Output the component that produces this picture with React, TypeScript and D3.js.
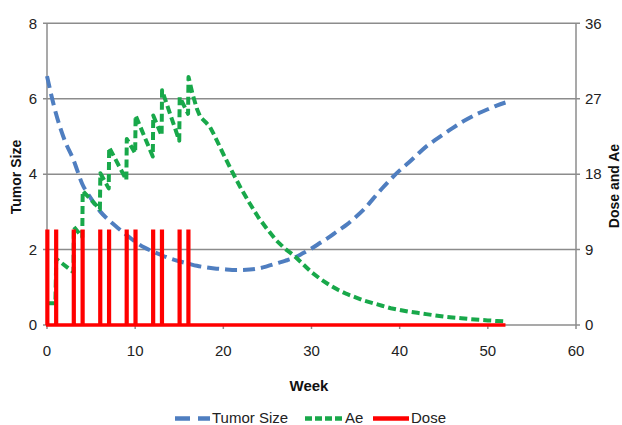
import React from "react";
import * as d3 from "d3";

// ---------- data ----------
const tumorWeeks = [0,1,2,3,4,5,6,7,8,9,10,11,12,13,14,15,16,17,18,19,20,21,22,23,24,25,26,27,28,29,30,31,32,33,34,35,36,37,38,39,40,41,42,43,44,45,46,47,48,49,50,51,52];
const tumorSize = [6.6,5.62,4.9,4.38,3.74,3.35,3.02,2.78,2.58,2.39,2.21,2.06,1.95,1.85,1.76,1.69,1.63,1.57,1.53,1.5,1.48,1.46,1.46,1.47,1.5,1.56,1.63,1.7,1.78,1.9,2.03,2.18,2.33,2.5,2.66,2.86,3.08,3.35,3.62,3.87,4.1,4.3,4.52,4.73,4.9,5.06,5.22,5.37,5.5,5.62,5.72,5.82,5.9];

const aeWeeks = [0,0.95,1.05,3,3.05,4,4.05,6,6.05,7,7.05,9,9.05,10,10.05,12,12.05,13,13.05,15,15.05,16,16.05,16.5,17,17.4,18,18.5,19,20,21,22,23,24,25,26,27,28,29,30,31,32,33,34,35,36,37,38,39,40,41,42,43,44,45,46,47,48,49,50,51,52];
const aeValues = [2.6,2.6,7.9,6.3,11.7,10.5,16.0,13.8,18.1,16.3,21.2,17.3,22.2,20.5,25.0,20.1,25.0,22.6,28.0,22.0,27.2,25.2,29.6,27.6,25.8,24.8,24.2,23.6,22.6,20.4,18.3,16.3,14.5,12.8,11.4,10.1,9.1,8.3,7.3,6.3,5.5,4.8,4.2,3.7,3.3,2.9,2.6,2.3,2.0,1.8,1.6,1.45,1.3,1.15,1.0,0.9,0.8,0.7,0.62,0.55,0.48,0.42];

const doseWeeks = [0,1,3,4,6,7,9,10,12,13,15,16];
const doseAmount = 11.2;
const doseEndWeek = 52;

const weekTicks = [0,10,20,30,40,50,60];
const tumorTicks = [0,2,4,6,8];
const doseAeTicks = [0,9,18,27,36];

const seriesNames = ["Tumor Size", "Ae", "Dose"];
const seriesColors = ["#4F7EC0", "#18A84A", "#FF0000"];

// ---------- layout ----------
const W = 622, H = 425;
const left = 47, right = 576, top = 23.3, bottom = 325;
const FONT = "'Liberation Sans', Arial, sans-serif";

export default function App() {
  const x = d3.scaleLinear().domain([0, 60]).range([left, right]);
  const yL = d3.scaleLinear().domain([0, 8]).range([bottom, top]);
  const yR = d3.scaleLinear().domain([0, 36]).range([bottom, top]);

  const tumorPts: [number, number][] = tumorWeeks.map((w, i) => [w, tumorSize[i]]);
  const tumorPath = d3.line<[number, number]>()
    .x(d => x(d[0])).y(d => yL(d[1]))
    .curve(d3.curveMonotoneX)(tumorPts) || "";

  const aePts: [number, number][] = aeWeeks.map((w, i) => [w, aeValues[i]]);
  const aePath = d3.line<[number, number]>()
    .x(d => x(d[0])).y(d => yR(d[1]))(aePts) || "";

  const dosePts: [number, number][] = [];
  doseWeeks.forEach(w => {
    dosePts.push([w, 0], [w, doseAmount], [w + 0.08, doseAmount], [w + 0.08, 0]);
  });
  dosePts.push([doseEndWeek, 0]);
  const dosePath = d3.line<[number, number]>()
    .x(d => x(d[0])).y(d => yR(d[1]))(dosePts) || "";

  const grid = "#8C8C8C";

  const legendItems = [
    { name: seriesNames[0], color: seriesColors[0], dash: "15,8", x1: 175, x2: 210, tx: 212 },
    { name: seriesNames[1], color: seriesColors[1], dash: "7,3", x1: 305, x2: 342, tx: 345 },
    { name: seriesNames[2], color: seriesColors[2], dash: "none", x1: 373, x2: 409, tx: 411 },
  ];

  return (
    <svg width={W} height={H} style={{ position: "absolute", left: 0, top: 0, background: "#fff" }}
      fontFamily={FONT}>
      <rect x={0} y={0} width={W} height={H} fill="#fff" />
      {/* gridlines */}
      {tumorTicks.map(t => (
        <line key={"g" + t} x1={left - 4} x2={right + 4} y1={yL(t)} y2={yL(t)} stroke={grid} strokeWidth={1.5} />
      ))}
      {/* axes lines */}
      <line x1={left} x2={left} y1={top} y2={bottom} stroke={grid} strokeWidth={1.5} />
      <line x1={right} x2={right} y1={top} y2={bottom} stroke={grid} strokeWidth={1.5} />
      {weekTicks.map(t => (
        <line key={"xt" + t} x1={x(t)} x2={x(t)} y1={bottom} y2={bottom + 4} stroke={grid} strokeWidth={1.5} />
      ))}
      {/* tick labels */}
      {tumorTicks.map(t => (
        <text key={"lt" + t} x={37} y={yL(t)} dy="0.35em" textAnchor="end" fontSize={15} fill="#222">{t}</text>
      ))}
      {doseAeTicks.map(t => (
        <text key={"rt" + t} x={585} y={yR(t)} dy="0.35em" textAnchor="start" fontSize={15} fill="#222">{t}</text>
      ))}
      {weekTicks.map(t => (
        <text key={"xl" + t} x={x(t)} y={351} dy="0.35em" textAnchor="middle" fontSize={15} fill="#222">{t}</text>
      ))}
      {/* axis titles */}
      <text x={0} y={0} transform={`translate(21,177) rotate(-90)`} textAnchor="middle" fontSize={14} fontWeight="bold" fill="#111">Tumor Size</text>
      <text x={0} y={0} transform={`translate(619,186) rotate(-90)`} textAnchor="middle" fontSize={14} fontWeight="bold" fill="#111">Dose and Ae</text>
      <text x={309} y={391} textAnchor="middle" fontSize={15} fontWeight="bold" fill="#111">Week</text>

      {/* series */}
      <path d={tumorPath} fill="none" stroke={seriesColors[0]} strokeWidth={4} strokeDasharray="12,6" />
      <path d={aePath} fill="none" stroke={seriesColors[1]} strokeWidth={4} strokeDasharray="8,4" strokeLinejoin="round" />
      <path d={dosePath} fill="none" stroke={seriesColors[2]} strokeWidth={3.5} />

      {/* legend */}
      {legendItems.map(it => (
        <g key={it.name}>
          <line x1={it.x1} x2={it.x2} y1={418.5} y2={418.5} stroke={it.color} strokeWidth={4.5}
            strokeDasharray={it.dash === "none" ? undefined : it.dash} />
          <text x={it.tx} y={423} fontSize={15} fill="#222">{it.name}</text>
        </g>
      ))}
    </svg>
  );
}
